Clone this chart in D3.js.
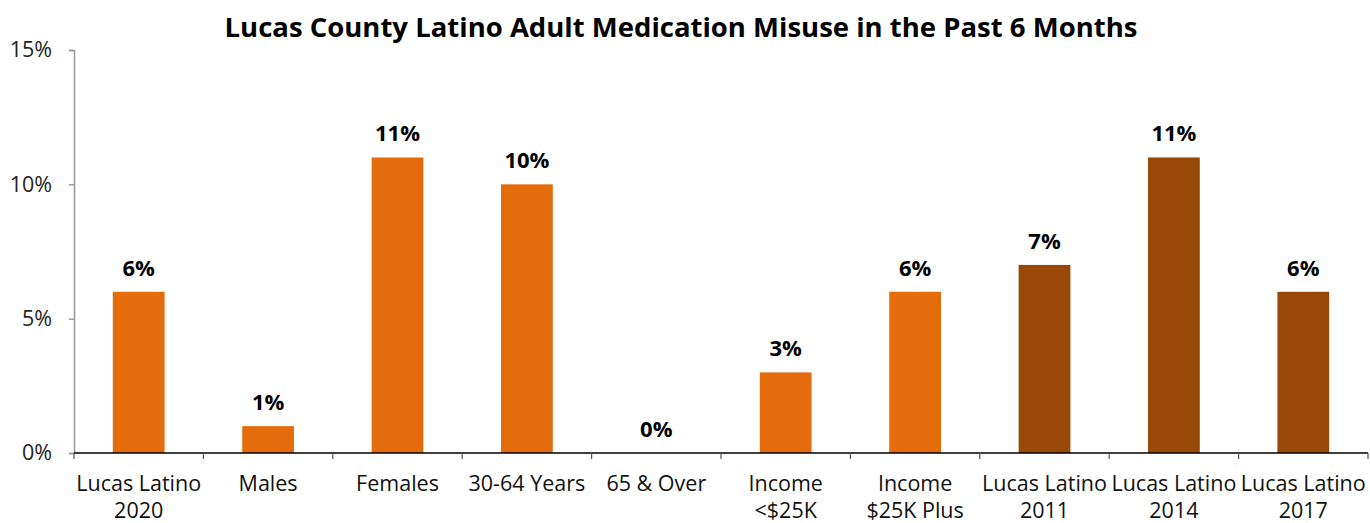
<!DOCTYPE html>
<html><head><meta charset="utf-8">
<script src="https://cdn.jsdelivr.net/npm/d3@7"></script>
<style>body{margin:0;background:#fff}svg{display:block}text{font-family:"Open Sans","Noto Sans",sans-serif}</style>
</head><body>
<svg id="c" width="1370" height="523"></svg>
<script>
const categories = [["Lucas Latino","2020"],["Males"],["Females"],["30-64 Years"],["65 & Over"],["Income","<$25K"],["Income","$25K Plus"],["Lucas Latino","2011"],["Lucas Latino","2014"],["Lucas Latino","2017"]];
const values = [6,1,11,10,0,3,6,7,11,6];
const groups = ["c","c","c","c","c","c","c","h","h","h"];
const yTicks = [0,5,10,15];
const title = "Lucas County Latino Adult Medication Misuse in the Past 6 Months";
const colors = {c:"#E46C0A", h:"#984807"};

(function(){
const svg = d3.select("#c");
const mLeft = 74, mRight = 1368, mTop = 50, mBottom = 453;
const ids = categories.map((d,i)=>i);
const x = d3.scaleBand().domain(ids).range([mLeft,mRight]).padding(0);
const y = d3.scaleLinear().domain([0,15]).range([mBottom,mTop]);

svg.append("text").attr("x",681).attr("y",37).attr("text-anchor","middle")
  .attr("font-size",27.5).attr("font-weight","bold").attr("fill","#000").text(title);

// y axis
const ya = svg.append("g").attr("transform",`translate(${mLeft},0)`)
  .call(d3.axisLeft(y).tickValues(yTicks).tickSize(5).tickFormat(d=>d+"%"));
ya.select(".domain").attr("stroke","#999").attr("stroke-width",1.5);
ya.selectAll(".tick line").attr("stroke","#999").attr("stroke-width",1.5);
ya.selectAll(".tick text").attr("font-size",21.5).attr("fill","#222").attr("x",-22)
  .style("font-family",'"Open Sans","Noto Sans",sans-serif');

// bars
const bw = x.bandwidth()*0.4;
svg.selectAll("rect.bar").data(values).enter().append("rect")
  .attr("x",(d,i)=>x(i)+x.bandwidth()/2-bw/2).attr("width",bw)
  .attr("y",d=>y(d)).attr("height",d=>mBottom-y(d))
  .attr("fill",(d,i)=>colors[groups[i]]);

svg.selectAll("text.lbl").data(values).enter().append("text")
  .attr("x",(d,i)=>x(i)+x.bandwidth()/2).attr("y",d=>y(d)-16)
  .attr("text-anchor","middle").attr("font-size",22).attr("font-weight","bold")
  .attr("fill","#000").text(d=>d+"%");

// x axis
svg.append("line").attr("x1",mLeft).attr("x2",mRight).attr("y1",mBottom).attr("y2",mBottom)
  .attr("stroke","#000").attr("stroke-width",1.5);
const bounds = ids.map(i=>x(i)).concat([x(ids[ids.length-1])+x.bandwidth()]);
svg.selectAll("line.xt").data(bounds).enter().append("line")
  .attr("x1",d=>d).attr("x2",d=>d).attr("y1",mBottom).attr("y2",mBottom+6)
  .attr("stroke","#555").attr("stroke-width",1.2);
const xl = svg.selectAll("text.xl").data(categories).enter().append("text")
  .attr("text-anchor","middle").attr("font-size",21.5).attr("fill","#111");
xl.each(function(d,i){
  const t = d3.select(this);
  d.forEach((s,j)=>t.append("tspan").attr("x",x(i)+x.bandwidth()/2).attr("y",491+j*27).text(s));
});
})();
</script>
</body></html>
